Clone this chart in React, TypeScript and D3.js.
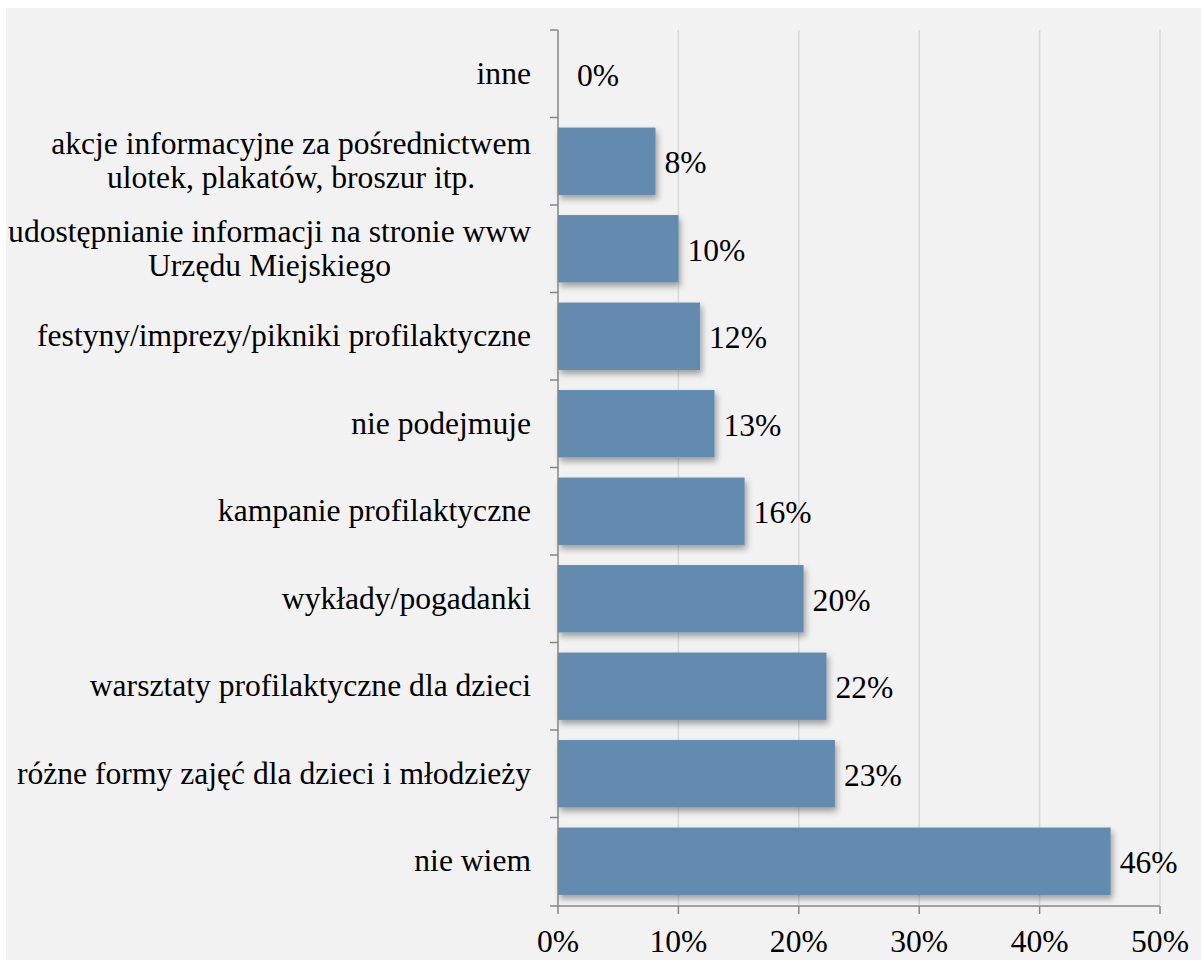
import React, { useEffect, useRef } from "react";
import * as d3 from "d3";

const categories: string[][] = [
  ["inne"],
  ["akcje informacyjne za pośrednictwem", "ulotek, plakatów, broszur itp."],
  ["udostępnianie informacji na stronie www", "Urzędu Miejskiego"],
  ["festyny/imprezy/pikniki profilaktyczne"],
  ["nie podejmuje"],
  ["kampanie profilaktyczne"],
  ["wykłady/pogadanki"],
  ["warsztaty profilaktyczne dla dzieci"],
  ["różne formy zajęć dla dzieci i młodzieży"],
  ["nie wiem"],
];
const values: number[] = [0, 8.1, 10, 11.8, 13, 15.5, 20.4, 22.3, 23, 45.9];
const xTicks: number[] = [0, 10, 20, 30, 40, 50];

const W = 1201;
const H = 960;
const FONT = "'Liberation Serif', serif";
const FS = 31.6;

export default function App() {
  const ref = useRef<SVGSVGElement>(null);

  useEffect(() => {
    const svg = d3.select(ref.current);
    svg.selectAll("*").remove();

    const x = d3.scaleLinear().domain([0, 50]).range([558, 1160]);
    const y = d3
      .scaleBand<number>()
      .domain(d3.range(categories.length))
      .range([30, 905])
      .paddingInner(0.23)
      .paddingOuter(0.115);
    const yb = d3
      .scaleBand<number>()
      .domain(d3.range(categories.length))
      .range([30, 905]);

    const defs = svg.append("defs");
    const f = defs
      .append("filter")
      .attr("id", "shadow")
      .attr("x", "-10%")
      .attr("y", "-20%")
      .attr("width", "130%")
      .attr("height", "160%");
    f.append("feDropShadow")
      .attr("dx", 2)
      .attr("dy", 4)
      .attr("stdDeviation", 3)
      .attr("flood-color", "#000")
      .attr("flood-opacity", 0.35);

    svg
      .append("rect")
      .attr("x", 6)
      .attr("y", 8)
      .attr("width", W - 6)
      .attr("height", H - 8)
      .attr("fill", "#f2f2f2");

    // gridlines
    svg
      .append("g")
      .selectAll("line")
      .data(xTicks.filter((t) => t > 0))
      .join("line")
      .attr("x1", (d) => x(d))
      .attr("x2", (d) => x(d))
      .attr("y1", 30)
      .attr("y2", 905)
      .attr("stroke", "#d9d9d9")
      .attr("stroke-width", 1.5);

    // bars
    svg
      .append("g")
      .selectAll("rect")
      .data(values)
      .join("rect")
      .attr("x", x(0))
      .attr("y", (_d, i) => y(i)!)
      .attr("width", (d) => x(d) - x(0))
      .attr("height", y.bandwidth())
      .attr("fill", "#638bb0")
      .attr("filter", (d) => (d > 0 ? "url(#shadow)" : null));

    // value labels
    svg
      .append("g")
      .selectAll("text")
      .data(values)
      .join("text")
      .attr("x", (d) => x(d) + (d === 0 ? 19 : 9))
      .attr("y", (_d, i) => y(i)! + y.bandwidth() / 2 + 12)
      .attr("font-family", FONT)
      .attr("font-size", FS)
      .attr("fill", "#000")
      .text((d) => `${Math.round(d)}%`);

    // axes
    const ax = svg.append("g").attr("stroke", "#868686").attr("stroke-width", 1.5);
    ax.append("line").attr("x1", 558).attr("x2", 558).attr("y1", 30).attr("y2", 906);
    ax.append("line").attr("x1", 550).attr("x2", 1160).attr("y1", 906).attr("y2", 906);
    ax.selectAll("line.yt")
      .data(d3.range(categories.length))
      .join("line")
      .attr("class", "yt")
      .attr("x1", 550)
      .attr("x2", 558)
      .attr("y1", (i) => yb(i)!)
      .attr("y2", (i) => yb(i)!);
    ax.selectAll("line.xt")
      .data(xTicks)
      .join("line")
      .attr("class", "xt")
      .attr("x1", (d) => x(d))
      .attr("x2", (d) => x(d))
      .attr("y1", 906)
      .attr("y2", 914);

    // x tick labels
    svg
      .append("g")
      .selectAll("text")
      .data(xTicks)
      .join("text")
      .attr("x", (d) => x(d))
      .attr("y", 952)
      .attr("text-anchor", "middle")
      .attr("font-family", FONT)
      .attr("font-size", FS)
      .text((d) => `${d}%`);

    // category labels
    const cg = svg.append("g");
    categories.forEach((lines, i) => {
      const cy = yb(i)! + yb.bandwidth() / 2;
      const lh = 34;
      const t = cg
        .append("text")
        .attr("font-family", FONT)
        .attr("font-size", FS)
        .attr("text-anchor", "middle");
      lines.forEach((ln, j) => {
        t.append("tspan")
          .attr("y", cy + (j - (lines.length - 1) / 2) * lh + 10)
          .text(ln);
      });
      let maxw = 0;
      t.selectAll<SVGTSpanElement, unknown>("tspan").each(function () {
        maxw = Math.max(maxw, this.getComputedTextLength());
      });
      t.selectAll("tspan").attr("x", 531 - maxw / 2);
    });
  }, []);

  return (
    <svg
      ref={ref}
      width={W}
      height={H}
      style={{ position: "absolute", left: 0, top: 0, display: "block" }}
    />
  );
}
